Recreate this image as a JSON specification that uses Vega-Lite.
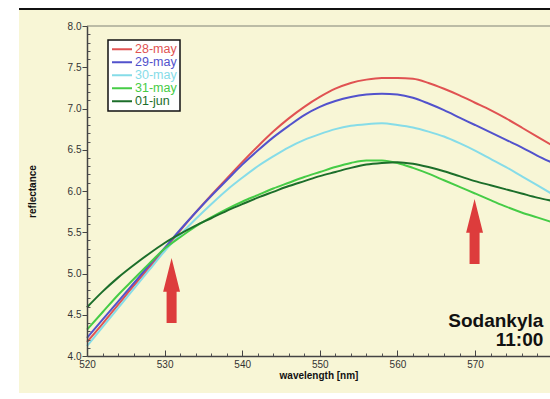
{
  "$schema": "https://vega.github.io/schema/vega-lite/v6.json",
  "width": 463,
  "height": 330,
  "autosize": "none",
  "padding": {"left": 87, "top": 26, "right": 0, "bottom": 43},
  "background": "white",
  "config": {"view": {"stroke": null}, "font": "Liberation Sans", "axis": {"zindex": 1}},
  "datasets": {
    "spectra": [
      {"w":520,"r":4.17,"d":"28-may"},{"w":522,"r":4.39,"d":"28-may"},{"w":524,"r":4.62,"d":"28-may"},{"w":526,"r":4.85,"d":"28-may"},{"w":528,"r":5.07,"d":"28-may"},{"w":530,"r":5.29,"d":"28-may"},{"w":532,"r":5.52,"d":"28-may"},{"w":534,"r":5.74,"d":"28-may"},{"w":536,"r":5.95,"d":"28-may"},{"w":538,"r":6.15,"d":"28-may"},{"w":540,"r":6.35,"d":"28-may"},{"w":542,"r":6.54,"d":"28-may"},{"w":544,"r":6.72,"d":"28-may"},{"w":546,"r":6.88,"d":"28-may"},{"w":548,"r":7.02,"d":"28-may"},{"w":550,"r":7.14,"d":"28-may"},{"w":552,"r":7.24,"d":"28-may"},{"w":554,"r":7.31,"d":"28-may"},{"w":556,"r":7.35,"d":"28-may"},{"w":558,"r":7.37,"d":"28-may"},{"w":560,"r":7.37,"d":"28-may"},{"w":562,"r":7.36,"d":"28-may"},{"w":564,"r":7.31,"d":"28-may"},{"w":566,"r":7.24,"d":"28-may"},{"w":568,"r":7.16,"d":"28-may"},{"w":570,"r":7.07,"d":"28-may"},{"w":572,"r":6.98,"d":"28-may"},{"w":574,"r":6.88,"d":"28-may"},{"w":576,"r":6.77,"d":"28-may"},{"w":578,"r":6.66,"d":"28-may"},{"w":580,"r":6.55,"d":"28-may"},
      {"w":520,"r":4.22,"d":"29-may"},{"w":522,"r":4.44,"d":"29-may"},{"w":524,"r":4.66,"d":"29-may"},{"w":526,"r":4.88,"d":"29-may"},{"w":528,"r":5.10,"d":"29-may"},{"w":530,"r":5.31,"d":"29-may"},{"w":532,"r":5.53,"d":"29-may"},{"w":534,"r":5.74,"d":"29-may"},{"w":536,"r":5.94,"d":"29-may"},{"w":538,"r":6.13,"d":"29-may"},{"w":540,"r":6.32,"d":"29-may"},{"w":542,"r":6.49,"d":"29-may"},{"w":544,"r":6.65,"d":"29-may"},{"w":546,"r":6.79,"d":"29-may"},{"w":548,"r":6.92,"d":"29-may"},{"w":550,"r":7.02,"d":"29-may"},{"w":552,"r":7.09,"d":"29-may"},{"w":554,"r":7.14,"d":"29-may"},{"w":556,"r":7.17,"d":"29-may"},{"w":558,"r":7.18,"d":"29-may"},{"w":560,"r":7.17,"d":"29-may"},{"w":562,"r":7.13,"d":"29-may"},{"w":564,"r":7.06,"d":"29-may"},{"w":566,"r":6.98,"d":"29-may"},{"w":568,"r":6.89,"d":"29-may"},{"w":570,"r":6.80,"d":"29-may"},{"w":572,"r":6.71,"d":"29-may"},{"w":574,"r":6.62,"d":"29-may"},{"w":576,"r":6.53,"d":"29-may"},{"w":578,"r":6.43,"d":"29-may"},{"w":580,"r":6.34,"d":"29-may"},
      {"w":520,"r":4.12,"d":"30-may"},{"w":522,"r":4.35,"d":"30-may"},{"w":524,"r":4.58,"d":"30-may"},{"w":526,"r":4.81,"d":"30-may"},{"w":528,"r":5.04,"d":"30-may"},{"w":530,"r":5.27,"d":"30-may"},{"w":532,"r":5.47,"d":"30-may"},{"w":534,"r":5.66,"d":"30-may"},{"w":536,"r":5.84,"d":"30-may"},{"w":538,"r":6.01,"d":"30-may"},{"w":540,"r":6.16,"d":"30-may"},{"w":542,"r":6.30,"d":"30-may"},{"w":544,"r":6.42,"d":"30-may"},{"w":546,"r":6.53,"d":"30-may"},{"w":548,"r":6.62,"d":"30-may"},{"w":550,"r":6.69,"d":"30-may"},{"w":552,"r":6.75,"d":"30-may"},{"w":554,"r":6.79,"d":"30-may"},{"w":556,"r":6.81,"d":"30-may"},{"w":558,"r":6.82,"d":"30-may"},{"w":560,"r":6.80,"d":"30-may"},{"w":562,"r":6.77,"d":"30-may"},{"w":564,"r":6.72,"d":"30-may"},{"w":566,"r":6.66,"d":"30-may"},{"w":568,"r":6.58,"d":"30-may"},{"w":570,"r":6.49,"d":"30-may"},{"w":572,"r":6.39,"d":"30-may"},{"w":574,"r":6.29,"d":"30-may"},{"w":576,"r":6.18,"d":"30-may"},{"w":578,"r":6.07,"d":"30-may"},{"w":580,"r":5.96,"d":"30-may"},
      {"w":520,"r":4.32,"d":"31-may"},{"w":522,"r":4.53,"d":"31-may"},{"w":524,"r":4.74,"d":"31-may"},{"w":526,"r":4.93,"d":"31-may"},{"w":528,"r":5.12,"d":"31-may"},{"w":530,"r":5.30,"d":"31-may"},{"w":532,"r":5.44,"d":"31-may"},{"w":534,"r":5.57,"d":"31-may"},{"w":536,"r":5.68,"d":"31-may"},{"w":538,"r":5.78,"d":"31-may"},{"w":540,"r":5.87,"d":"31-may"},{"w":542,"r":5.95,"d":"31-may"},{"w":544,"r":6.03,"d":"31-may"},{"w":546,"r":6.10,"d":"31-may"},{"w":548,"r":6.17,"d":"31-may"},{"w":550,"r":6.23,"d":"31-may"},{"w":552,"r":6.29,"d":"31-may"},{"w":554,"r":6.34,"d":"31-may"},{"w":556,"r":6.37,"d":"31-may"},{"w":558,"r":6.37,"d":"31-may"},{"w":560,"r":6.34,"d":"31-may"},{"w":562,"r":6.28,"d":"31-may"},{"w":564,"r":6.21,"d":"31-may"},{"w":566,"r":6.13,"d":"31-may"},{"w":568,"r":6.05,"d":"31-may"},{"w":570,"r":5.97,"d":"31-may"},{"w":572,"r":5.89,"d":"31-may"},{"w":574,"r":5.81,"d":"31-may"},{"w":576,"r":5.74,"d":"31-may"},{"w":578,"r":5.68,"d":"31-may"},{"w":580,"r":5.62,"d":"31-may"},
      {"w":520,"r":4.59,"d":"01-jun"},{"w":522,"r":4.78,"d":"01-jun"},{"w":524,"r":4.95,"d":"01-jun"},{"w":526,"r":5.10,"d":"01-jun"},{"w":528,"r":5.24,"d":"01-jun"},{"w":530,"r":5.37,"d":"01-jun"},{"w":532,"r":5.48,"d":"01-jun"},{"w":534,"r":5.58,"d":"01-jun"},{"w":536,"r":5.67,"d":"01-jun"},{"w":538,"r":5.76,"d":"01-jun"},{"w":540,"r":5.84,"d":"01-jun"},{"w":542,"r":5.92,"d":"01-jun"},{"w":544,"r":5.99,"d":"01-jun"},{"w":546,"r":6.06,"d":"01-jun"},{"w":548,"r":6.12,"d":"01-jun"},{"w":550,"r":6.18,"d":"01-jun"},{"w":552,"r":6.23,"d":"01-jun"},{"w":554,"r":6.28,"d":"01-jun"},{"w":556,"r":6.32,"d":"01-jun"},{"w":558,"r":6.34,"d":"01-jun"},{"w":560,"r":6.35,"d":"01-jun"},{"w":562,"r":6.33,"d":"01-jun"},{"w":564,"r":6.29,"d":"01-jun"},{"w":566,"r":6.24,"d":"01-jun"},{"w":568,"r":6.18,"d":"01-jun"},{"w":570,"r":6.12,"d":"01-jun"},{"w":572,"r":6.07,"d":"01-jun"},{"w":574,"r":6.02,"d":"01-jun"},{"w":576,"r":5.97,"d":"01-jun"},{"w":578,"r":5.92,"d":"01-jun"},{"w":580,"r":5.88,"d":"01-jun"}
    ],
    "arrows": [{"w": 530.9, "r": 4.794}, {"w": 569.94, "r": 5.51}],
    "labels": [{"w": 578.8, "r": 4.352, "t": "Sodankyla"}, {"w": 578.8, "r": 4.121, "t": "11:00"}]
  },
  "resolve": {"axis": {"x": "independent", "y": "independent"}},
  "layer": [
    {
      "data": {"values": [{}]},
      "mark": {"type": "rect", "color": "#f8f6d6"},
      "encoding": {
        "x": {"datum": 511.24, "type": "quantitative", "scale": {"domain": [520, 579.66], "nice": false, "zero": false}, "axis": null},
        "x2": {"datum": 585},
        "y": {"datum": 8.194, "type": "quantitative", "scale": {"domain": [4, 8], "nice": false, "zero": false}, "axis": null},
        "y2": {"datum": 3.552}
      }
    },
    {
      "data": {"values": [{}]},
      "mark": {"type": "rule", "color": "#111111", "strokeWidth": 2},
      "encoding": {
        "x": {"datum": 511.24, "type": "quantitative", "scale": {"domain": [520, 579.66], "nice": false, "zero": false}, "axis": null},
        "x2": {"datum": 585},
        "y": {"datum": 8.206, "type": "quantitative", "scale": {"domain": [4, 8], "nice": false, "zero": false}, "axis": null}
      }
    },
    {
      "data": {"values": [{}]},
      "mark": {"type": "rule", "color": "#a8a896", "strokeWidth": 1.5},
      "encoding": {
        "x": {"datum": 520, "type": "quantitative", "scale": {"domain": [520, 579.66], "nice": false, "zero": false},
          "axis": {"orient": "bottom", "zindex": 1, "values": [522,524,526,528,532,534,536,538,542,544,546,548,552,554,556,558,562,564,566,568,572,574,576,578], "labels": false, "domain": false, "grid": false, "title": null, "tickSize": -3, "tickColor": "#555555", "tickWidth": 1}},
        "x2": {"datum": 585},
        "y": {"datum": 8, "type": "quantitative", "scale": {"domain": [4, 8], "nice": false, "zero": false},
          "axis": {"orient": "left", "zindex": 1, "values": [4.1,4.2,4.3,4.4,4.6,4.7,4.8,4.9,5.1,5.2,5.3,5.4,5.6,5.7,5.8,5.9,6.1,6.2,6.3,6.4,6.6,6.7,6.8,6.9,7.1,7.2,7.3,7.4,7.6,7.7,7.8,7.9], "labels": false, "domain": false, "grid": false, "title": null, "tickSize": -3, "tickColor": "#555555", "tickWidth": 1}}
      }
    },
    {
      "data": {"name": "spectra"},
      "mark": {"type": "line", "strokeWidth": 2, "interpolate": "monotone"},
      "encoding": {
        "x": {"field": "w", "type": "quantitative", "scale": {"domain": [520, 579.66], "nice": false, "zero": false},
          "axis": {"orient": "bottom", "zindex": 1, "values": [520,530,540,550,560,570,580], "format": "d", "grid": false, "title": "wavelength [nm]", "titleFontWeight": "bold", "titleFontSize": 10, "titleColor": "#111111", "titlePadding": 1, "labelFontSize": 10, "labelColor": "#333333", "labelPadding": 9, "tickSize": -6, "tickColor": "#444444", "domainColor": "#444444", "domainWidth": 1.5, "labelFlush": false}},
        "y": {"field": "r", "type": "quantitative", "scale": {"domain": [4, 8], "nice": false, "zero": false},
          "axis": {"orient": "left", "zindex": 1, "values": [4,4.5,5,5.5,6,6.5,7,7.5,8], "format": ".1f", "grid": false, "title": "reflectance", "titleFontWeight": "bold", "titleFontSize": 10, "titleColor": "#111111", "titlePadding": 30, "labelFontSize": 10, "labelColor": "#333333", "labelPadding": 1, "tickSize": 5, "tickColor": "#444444", "domainColor": "#444444", "domainWidth": 1.5, "labelFlush": false}},
        "color": {"field": "d", "type": "nominal", "sort": null,
          "scale": {"domain": ["28-may", "29-may", "30-may", "31-may", "01-jun"], "range": ["#e05252", "#5252cc", "#86dce8", "#46cc46", "#1c6e2a"]},
          "legend": {"orient": "none", "legendX": 21, "legendY": 14, "title": null, "fillColor": "white", "strokeColor": "#111111", "padding": 3, "symbolType": "stroke", "symbolSize": 400, "symbolStrokeWidth": 2, "labelFontSize": 12.5, "labelOffset": 2, "clipHeight": 12.5, "rowPadding": 0,
            "encode": {"legend": {"update": {"strokeWidth": {"value": 1.5}}}, "labels": {"update": {"fill": {"scale": "color", "field": "value"}}}}}
        }
      }
    },
    {
      "data": {"name": "arrows"},
      "mark": {"type": "point", "shape": "M0,-1L0.26,0.04L0.154,0.04L0.154,1L-0.154,1L-0.154,0.04L-0.26,0.04Z", "size": 4225, "filled": true, "color": "#dd3c3c", "opacity": 1, "strokeWidth": 0},
      "encoding": {
        "x": {"field": "w", "type": "quantitative", "scale": {"domain": [520, 579.66], "nice": false, "zero": false}, "axis": null},
        "y": {"field": "r", "type": "quantitative", "scale": {"domain": [4, 8], "nice": false, "zero": false}, "axis": null}
      }
    },
    {
      "data": {"name": "labels"},
      "mark": {"type": "text", "align": "right", "baseline": "alphabetic", "fontSize": 19, "fontWeight": "bold", "color": "#111111"},
      "encoding": {
        "x": {"field": "w", "type": "quantitative", "scale": {"domain": [520, 579.66], "nice": false, "zero": false}, "axis": null},
        "y": {"field": "r", "type": "quantitative", "scale": {"domain": [4, 8], "nice": false, "zero": false}, "axis": null},
        "text": {"field": "t"}
      }
    }
  ]
}
